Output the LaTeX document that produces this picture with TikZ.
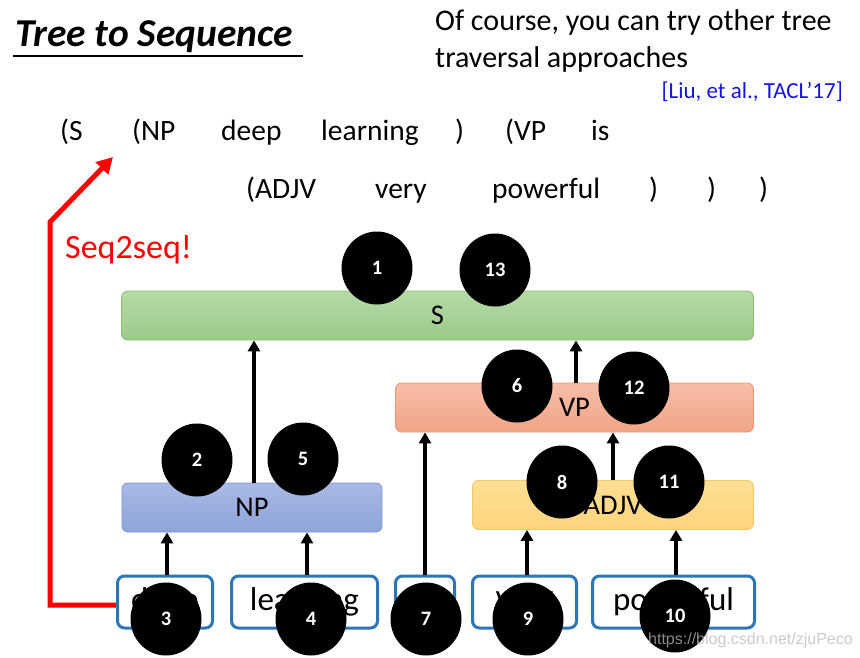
\documentclass[tikz,border=0pt]{standalone}
\usepackage{fontspec}
\setmainfont{Carlito}
\newfontfamily\wmfont{Liberation Sans}
\usetikzlibrary{arrows.meta,shapes.geometric}
\definecolor{wordblue}{RGB}{46,117,182}
\definecolor{citeblue}{RGB}{20,20,225}
\definecolor{sTop}{RGB}{182,218,167}
\definecolor{sBot}{RGB}{156,202,137}
\definecolor{sLine}{RGB}{140,190,120}
\definecolor{vpTop}{RGB}{247,190,168}
\definecolor{vpBot}{RGB}{241,164,134}
\definecolor{vpLine}{RGB}{232,150,118}
\definecolor{npTop}{RGB}{170,185,228}
\definecolor{npBot}{RGB}{142,164,217}
\definecolor{npLine}{RGB}{125,148,205}
\definecolor{adTop}{RGB}{255,223,148}
\definecolor{adBot}{RGB}{253,212,125}
\definecolor{adLine}{RGB}{245,198,100}
\definecolor{seqred}{RGB}{255,0,0}
\begin{document}
\begin{tikzpicture}[x=1pt,y=-1pt,
  seqtxt/.style={inner sep=0pt, anchor=base west, font=\fontsize{29.5}{34}\selectfont},
  phrase/.style={rounded corners=6pt, line width=0.8pt, inner sep=0pt, font=\fontsize{28.5}{33}\selectfont},
  word/.style={draw=wordblue, line width=3pt, rounded corners=7pt, fill=white, minimum height=52pt, inner sep=0pt, font=\fontsize{33}{38}\selectfont},
  arr/.style={line width=3.5pt, -{Triangle[width=12pt,length=11pt]}},
  num/.style={ellipse, fill=black, minimum width=71pt, minimum height=73pt, inner sep=0pt, text=white, font=\bfseries\fontsize{20.5}{24}\selectfont}
]
\useasboundingbox (0,0) rectangle (860,658);

% title
\node[inner sep=0pt, anchor=base west, font=\bfseries\itshape\fontsize{39.5}{44}\selectfont] (title) at (15,47) {Tree to Sequence};
\draw[line width=2pt] (13,56) -- (303,56);

% top right remark
\node[inner sep=0pt, anchor=base west, font=\fontsize{30}{34}\selectfont] (rem1) at (435,31) {Of course, you can try other tree};
\node[inner sep=0pt, anchor=base west, font=\fontsize{30}{34}\selectfont] (rem2) at (435,68) {traversal approaches};
\node[inner sep=0pt, anchor=base east, text=citeblue, font=\fontsize{23}{27}\selectfont] (cite) at (843,99) {[Liu, et al., TACL’17]};

% sequence
\node[seqtxt] (q1) at (60,141) {(S};
\node[seqtxt] (q2) at (132,141) {(NP};
\node[seqtxt] (q3) at (221,141) {deep};
\node[seqtxt] (q4) at (321,141) {learning};
\node[seqtxt] (q5) at (455,141) {)};
\node[seqtxt] (q6) at (505,141) {(VP};
\node[seqtxt] (q7) at (591,141) {is};
\node[seqtxt] (r1) at (246,198) {(ADJV};
\node[seqtxt] (r2) at (375,198) {very};
\node[seqtxt] (r3) at (492,198) {powerful};
\node[seqtxt] (r4) at (649,198) {)};
\node[seqtxt] (r5) at (707,198) {)};
\node[seqtxt] (r6) at (759,198) {)};

% phrase boxes
\node[phrase, draw=sLine, top color=sTop, bottom color=sBot, minimum width=632pt, minimum height=49pt] (S) at (437.5,315.5) {S};
\node[phrase, draw=vpLine, top color=vpTop, bottom color=vpBot, minimum width=358pt, minimum height=49pt] (VP) at (574.5,407.5) {VP};
\node[phrase, draw=npLine, top color=npTop, bottom color=npBot, minimum width=260pt, minimum height=49pt] (NP) at (252,507.5) {NP};
\node[phrase, draw=adLine, top color=adTop, bottom color=adBot, minimum width=281pt, minimum height=49pt] (ADJV) at (613,505) {ADJV};

% word boxes
\node[word, minimum width=95pt] (w1) at (165,602) {deep};
\node[word, minimum width=146pt] (w2) at (304.5,602) {learning};
\node[word, minimum width=59pt] (w3) at (425,602) {is};
\node[word, minimum width=104pt] (w4) at (524.5,602) {very};
\node[word, minimum width=162pt] (w5) at (673.5,602) {powerful};

% arrows
\draw[arr] (w1.north -| 167,0) -- (NP.south -| 167,0);
\draw[arr] (w2.north -| 307,0) -- (NP.south -| 307,0);
\draw[arr] (NP.north -| 254,0) -- (S.south -| 254,0);
\draw[arr] (w3.north -| 425,0) -- (VP.south -| 425,0);
\draw[arr] (w4.north -| 527,0) -- (ADJV.south -| 527,0);
\draw[arr] (w5.north -| 676,0) -- (ADJV.south -| 676,0);
\draw[arr] (ADJV.north -| 613,0) -- (VP.south -| 613,0);
\draw[arr] (VP.north -| 576,0) -- (S.south -| 576,0);

% red seq2seq arrow
\coordinate (rB) at (50,222);
\coordinate (rTip) at (113,157);
\draw[seqred, line width=5pt, -{Triangle[width=17pt,length=16pt]}] ([yshift=-3pt]w1.west) -| (rB) -- (rTip);
\node[inner sep=0pt, anchor=base west, text=seqred, font=\fontsize{34}{38}\selectfont] (s2s) at (65,258) {Seq2seq!};

% numbered circles
\node[num] (c1) at (377,268) {1};
\node[num] (c13) at (495,270) {13};
\node[num] (c6) at (517,386) {6};
\node[num] (c12) at (634,388) {12};
\node[num] (c2) at (197,460) {2};
\node[num] (c5) at (303,459) {5};
\node[num] (c8) at (562,482) {8};
\node[num] (c11) at (669,482) {11};
\node[num] (c3) at (166,619) {3};
\node[num] (c4) at (311,619) {4};
\node[num] (c7) at (426,619) {7};
\node[num] (c9) at (528,619) {9};
\node[num] (c10) at (675,616) {10};

% watermark
\node[inner sep=0pt, anchor=base west, text=gray!55, opacity=0.75, font=\wmfont\fontsize{16}{19}\selectfont] (wm) at (648,644) {https://blog.csdn.net/zjuPeco};
\end{tikzpicture}
\end{document}
